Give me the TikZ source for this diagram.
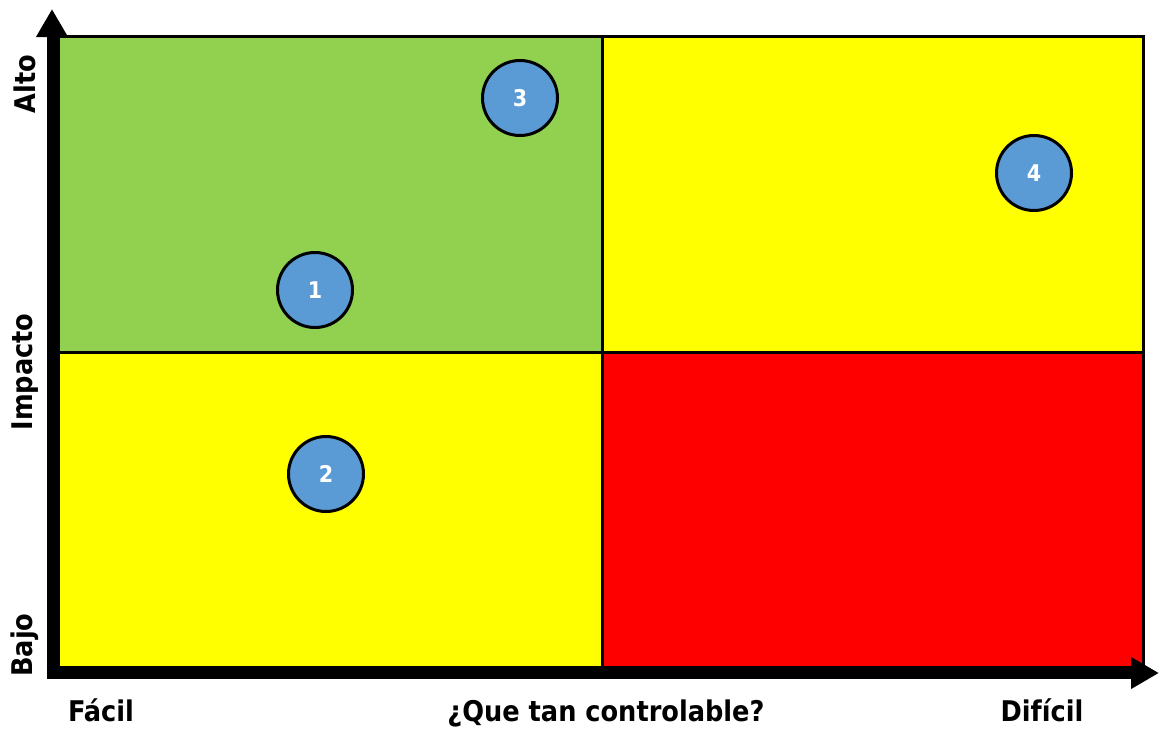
\documentclass[tikz,border=0pt]{standalone}
\usepackage{fontspec}
\setmainfont{DejaVu Sans Condensed}
\usetikzlibrary{arrows.meta}
\definecolor{qgreen}{HTML}{92D050}
\definecolor{qyellow}{HTML}{FFFF00}
\definecolor{qred}{HTML}{FF0000}
\definecolor{qblue}{HTML}{5B9BD5}
\tikzset{
  quad/.style={draw=black, line width=3pt},
  pt/.style={circle, draw=black, line width=3pt, fill=qblue, minimum size=75pt, inner sep=0pt, text=white, font=\bfseries\fontsize{23}{23}\selectfont},
  axislbl/.style={font=\bfseries\fontsize{28.5}{28.5}\selectfont, inner sep=0pt},
  axis/.style={line width=11pt, -{Triangle[length=28pt,width=30pt]}}
}
\begin{document}
\begin{tikzpicture}[x=1pt,y=-1pt]
\useasboundingbox (0,0) rectangle (1159,729);
% quadrants
\fill[qgreen] (58,36) rectangle (602,352);
\fill[qyellow] (602,36) rectangle (1143,352);
\fill[qyellow] (58,352) rectangle (602,667);
\fill[qred] (602,352) rectangle (1143,667);
\draw[quad] (58,36) rectangle (1143,667);
\draw[quad] (602,36) -- (602,667);
\draw[quad] (58,352) -- (1143,352);
% axes
\coordinate (ytop) at (52,9);
\coordinate (xend) at (1159,673);
\draw[axis] (52,678.5) -- (ytop);
\draw[axis] (46.5,673) -- (xend);
% labels
\node[axislbl, rotate=90] (alto) at (25,84) {Alto};
\node[axislbl, rotate=90] (imp) at (25,372) {Impacto};
\node[axislbl, rotate=90] (bajo) at (25,645) {Bajo};
\node[axislbl] (facil) at (101,710) {Fácil};
\node[axislbl] (ctrl) at (606,713) {¿Que tan controlable?};
\node[axislbl] (dificil) at (1042,710) {Difícil};
% points
\node[pt] (p1) at (315,290) {1};
\node[pt] (p2) at (326,474) {2};
\node[pt] (p3) at (520,98) {3};
\node[pt] (p4) at (1034,173) {4};
\end{tikzpicture}
\end{document}
